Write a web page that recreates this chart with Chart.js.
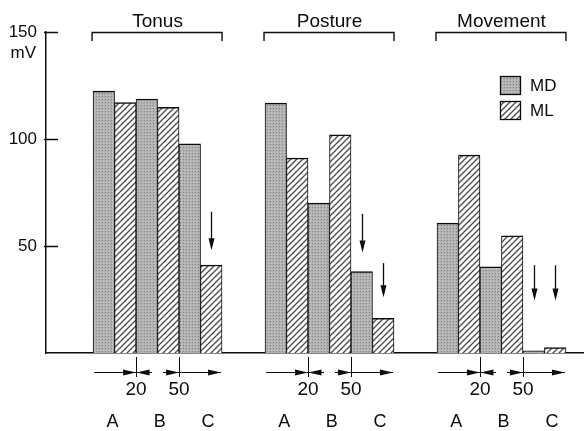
<!DOCTYPE html>
<html><head><meta charset="utf-8">
<script src="https://cdn.jsdelivr.net/npm/chart.js@4/dist/chart.umd.min.js"></script>
<style>html,body{margin:0;padding:0;background:#fff}canvas{display:block}</style>
</head><body>
<canvas id="c" width="584" height="431"></canvas>
<script>
// ---- data ----
const groups = ['Tonus', 'Posture', 'Movement'];
const conditions = ['A', 'B', 'C'];
const seriesNames = ['MD', 'ML'];
const mdValues = [122.4, 118.7, 97.7, 116.8, 70.1, 38.0, 60.7, 40.3, 1.0];
const mlValues = [117.0, 114.8, 41.1, 91.1, 101.9, 16.2, 92.5, 54.7, 2.5];
const yTickValues = [50, 100, 150];
const boundaryLabels = ['20', '50'];
const yUnit = 'mV';
// arrow marks: group, condition, series, tip value, tail value (mV)
const arrowMarks = [[0, 2, 1, 48, 66], [1, 2, 0, 47, 65], [1, 2, 1, 26, 42], [2, 2, 0, 24.5, 41], [2, 2, 1, 24.5, 41]];

// ---- layout helpers ----
const SLOTS_PER_GROUP = 8;
const slotOf = (g, c, s) => g * SLOTS_PER_GROUP + c * 2 + s;
const FONT = '"Liberation Sans", Arial, Helvetica, sans-serif';
const INK = '#0c0c0c';

function mdPattern() {
  const p = document.createElement('canvas'); p.width = 3; p.height = 3;
  const c = p.getContext('2d');
  c.fillStyle = '#b2b2b2'; c.fillRect(0, 0, 3, 3);
  c.fillStyle = '#848484'; c.fillRect(0, 0, 1, 1);
  c.fillStyle = '#c8c8c8'; c.fillRect(1, 2, 1, 1);
  return c.createPattern(p, 'repeat');
}
function mlPattern() {
  const n = 6;
  const p = document.createElement('canvas'); p.width = n; p.height = n;
  const c = p.getContext('2d');
  c.fillStyle = '#ffffff'; c.fillRect(0, 0, n, n);
  c.strokeStyle = '#505050'; c.lineWidth = 1.4;
  c.beginPath();
  c.moveTo(-1, n + 1); c.lineTo(n + 1, -1);
  c.moveTo(-1, 1); c.lineTo(1, -1);
  c.moveTo(n - 1, n + 1); c.lineTo(n + 1, n - 1);
  c.stroke();
  return c.createPattern(p, 'repeat');
}
const fills = [mdPattern(), mlPattern()];

const mdData = [], mlData = [];
groups.forEach((g, gi) => conditions.forEach((cn, ci) => {
  mdData.push({ x: slotOf(gi, ci, 0), y: mdValues[gi * 3 + ci] });
  mlData.push({ x: slotOf(gi, ci, 1), y: mlValues[gi * 3 + ci] });
}));

function arrowHead(ctx, x, y, dir, len, hw) {
  ctx.beginPath();
  if (dir === 'r') { ctx.moveTo(x, y); ctx.lineTo(x - len, y - hw); ctx.lineTo(x - len, y + hw); }
  else if (dir === 'l') { ctx.moveTo(x, y); ctx.lineTo(x + len, y - hw); ctx.lineTo(x + len, y + hw); }
  else { ctx.moveTo(x, y); ctx.lineTo(x - hw, y - len); ctx.lineTo(x + hw, y - len); }
  ctx.closePath(); ctx.fill();
}

const deco = {
  id: 'deco',
  afterDraw(chart) {
    const { ctx, chartArea: ca, scales: { x, y } } = chart;
    const half = (x.getPixelForValue(1) - x.getPixelForValue(0)) / 2;
    ctx.save();
    ctx.fillStyle = INK; ctx.strokeStyle = INK;

    // inward y tick marks
    ctx.lineWidth = 1.5;
    yTickValues.forEach(v => {
      const py = Math.round(y.getPixelForValue(v)) + 0.5;
      ctx.beginPath(); ctx.moveTo(ca.left - 2, py); ctx.lineTo(ca.left + 12, py); ctx.stroke();
    });
    // unit label
    ctx.font = '17px ' + FONT; ctx.textAlign = 'right'; ctx.textBaseline = 'alphabetic';
    ctx.fillText(yUnit, 36, 58);

    groups.forEach((name, gi) => {
      const left = x.getPixelForValue(slotOf(gi, 0, 0)) - half;
      const right = x.getPixelForValue(slotOf(gi, 2, 1)) + half;
      const cx = (left + right) / 2;
      // title + bracket
      ctx.font = '19px ' + FONT; ctx.textAlign = 'center'; ctx.textBaseline = 'alphabetic';
      ctx.fillText(name, cx, 27);
      ctx.lineWidth = 1.4;
      ctx.beginPath();
      ctx.moveTo(left - 1, 41); ctx.lineTo(left - 1, 32.5); ctx.lineTo(right, 32.5); ctx.lineTo(right, 41);
      ctx.stroke();

      // bottom boundary ticks and arrows
      const b1 = x.getPixelForValue(slotOf(gi, 0, 1) + 0.5);
      const b2 = x.getPixelForValue(slotOf(gi, 1, 1) + 0.5);
      const ay = 372.5;
      ctx.lineWidth = 1;
      [b1, b2].forEach(b => {
        const bx = Math.round(b) + 0.5;
        ctx.beginPath(); ctx.moveTo(bx, 357); ctx.lineTo(bx, 377); ctx.stroke();
      });
      ctx.beginPath();
      ctx.moveTo(left + 1, ay); ctx.lineTo(b1, ay);
      ctx.moveTo(b1, ay); ctx.lineTo(b1 + 16, ay);
      ctx.moveTo(b2 - 16, ay); ctx.lineTo(b2, ay);
      ctx.moveTo(b2, ay); ctx.lineTo(right - 1, ay);
      ctx.stroke();
      arrowHead(ctx, b1, ay, 'r', 13, 3);
      arrowHead(ctx, b1 + 0.5, ay, 'l', 13, 3);
      arrowHead(ctx, b2, ay, 'r', 13, 3);
      arrowHead(ctx, right - 1, ay, 'r', 13, 3);

      ctx.font = '19px ' + FONT; ctx.textAlign = 'center';
      ctx.fillText(boundaryLabels[0], b1, 395);
      ctx.fillText(boundaryLabels[1], b2, 395);

      const labelOffsets = [0.4, 2.6, 4.85];
      ctx.font = '18px ' + FONT;
      conditions.forEach((cn, ci) => {
        ctx.fillText(cn, x.getPixelForValue(gi * SLOTS_PER_GROUP + labelOffsets[ci]), 427);
      });
    });

    // down arrows
    arrowMarks.forEach(([gi, ci, si, tip, tail]) => {
      const px = Math.round(x.getPixelForValue(slotOf(gi, ci, si))) + 0.5;
      const ty = y.getPixelForValue(tip), tl = y.getPixelForValue(tail);
      ctx.lineWidth = 1.3;
      ctx.beginPath(); ctx.moveTo(px, tl); ctx.lineTo(px, ty - 4); ctx.stroke();
      arrowHead(ctx, px, ty, 'd', 12, 3);
    });

    // legend
    ctx.font = '17px ' + FONT; ctx.textAlign = 'left'; ctx.textBaseline = 'middle';
    seriesNames.forEach((s, si) => {
      const bx = 500, by = 76 + si * 25;
      ctx.fillStyle = fills[si];
      ctx.fillRect(bx, by, 21, 18);
      ctx.lineWidth = 1.3; ctx.strokeStyle = INK;
      ctx.strokeRect(bx + 0.5, by + 0.5, 20, 18);
      ctx.fillStyle = INK;
      ctx.fillText(s, 530, by + 10);
    });
    ctx.restore();
  }
};

new Chart(document.getElementById('c'), {
  type: 'bar',
  data: {
    datasets: [
      { label: seriesNames[0], data: mdData, backgroundColor: fills[0], borderColor: INK, borderWidth: { top: 1.5, left: 1, right: 1, bottom: 0 } },
      { label: seriesNames[1], data: mlData, backgroundColor: fills[1], borderColor: INK, borderWidth: { top: 1.5, left: 1, right: 1, bottom: 0 } }
    ]
  },
  options: {
    responsive: false,
    devicePixelRatio: 1,
    animation: false,
    grouped: false,
    categoryPercentage: 1,
    barPercentage: 1,
    layout: { padding: { top: 32, bottom: 78, left: 0, right: 0 } },
    plugins: { legend: { display: false }, tooltip: { enabled: false } },
    scales: {
      x: {
        type: 'linear',
        min: -2.69, max: 22.34,
        offset: false,
        afterBuildTicks: s => { s.ticks = []; },
        afterFit: s => { s.height = 0; },
        ticks: { display: false },
        grid: { display: false, drawTicks: false },
        border: { display: true, color: INK, width: 1.5 }
      },
      y: {
        min: 0, max: 150,
        afterBuildTicks: s => { s.ticks = yTickValues.map(v => ({ value: v })); },
        afterFit: s => { s.width = 46; },
        ticks: { padding: 9, color: INK, font: { family: FONT, size: 17 } },
        grid: { display: false, drawTicks: false },
        border: { display: true, color: INK, width: 1.5 }
      }
    }
  },
  plugins: [deco]
});
</script>
</body></html>
